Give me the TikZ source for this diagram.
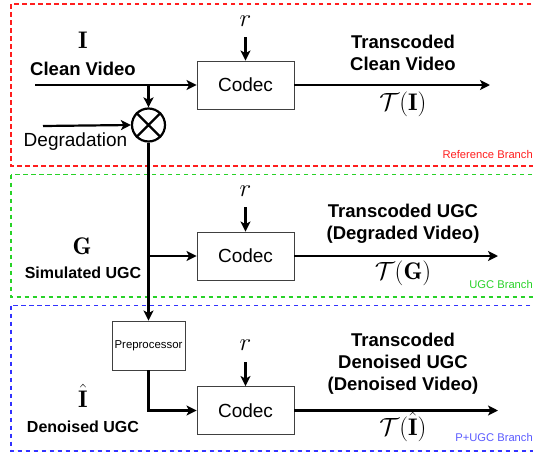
\documentclass[tikz,border=0pt]{standalone}
\usepackage{amsmath}
\usepackage{fontspec}
\setsansfont{Liberation Sans}
\usetikzlibrary{arrows.meta,shapes.misc}

\tikzset{
  conn/.style={line width=2.2pt, -{Stealth[length=10pt,width=10pt,inset=2.5pt]}},
  wire/.style={line width=2.2pt},
  codecbox/.style={draw=black!75, line width=0.9pt, minimum width=97pt, minimum height=48pt,
    font=\sffamily\fontsize{19}{22}\selectfont, inner sep=0pt},
  prebox/.style={draw=black!75, line width=0.9pt, minimum width=73pt, minimum height=49pt,
    font=\sffamily\fontsize{11.4}{13}\selectfont, inner sep=0pt},
  branch/.style={dash pattern=on 4.5pt off 3.5pt, line width=1.5pt},
  boldlbl/.style={font=\sffamily\bfseries\fontsize{18.5}{22}\selectfont, align=center, inner sep=0pt},
  smalllbl/.style={font=\sffamily\bfseries\fontsize{16}{19}\selectfont, inner sep=0pt},
  mathlbl/.style={font=\fontsize{24}{26}\selectfont, inner sep=0pt, text height=12pt, text depth=4pt},
  tag/.style={font=\sffamily\fontsize{11.2}{13}\selectfont, inner sep=0pt, anchor=east},
}
\definecolor{refred}{RGB}{255,30,30}
\definecolor{ugcgreen}{RGB}{40,210,40}
\definecolor{pblue}{RGB}{50,50,255}
\definecolor{tagblue}{RGB}{90,90,255}

\begin{document}
\begin{tikzpicture}[x=1pt,y=-1pt]
\useasboundingbox (0,0) rectangle (533,453);

% branch frames (right edges run past the page)
\begin{scope}
\clip (0,0) rectangle (533,453);
\draw[branch, refred]   (11,4)   rectangle (545,166);
\draw[branch, ugcgreen] (11,174.5) rectangle (545,297);
\draw[branch, pblue]    (11,305.5) rectangle (545,451);
\end{scope}
\node[tag, text=refred]   at (533,154) {Reference Branch};
\node[tag, text=ugcgreen] at (533,284) {UGC Branch};
\node[tag, text=tagblue]  at (533,437) {P+UGC Branch};

% codecs and preprocessor
\node[codecbox] (c1) at (245.5,85) {Codec};
\node[codecbox] (c2) at (245.5,256) {Codec};
\node[codecbox] (c3) at (245.5,410.5) {Codec};
\node[prebox]   (pre) at (148.5,345.5) {Preprocessor};

% degradation mixer
\node[draw, circle, line width=2.2pt, minimum size=33pt, inner sep=0pt] (mix) at (148.5,125) {};
\draw[line width=2.2pt] (mix.north west) -- (mix.south east) (mix.north east) -- (mix.south west);

% rate inputs
\node[mathlbl] (r1) at (245.5,22) {$r$};
\node[mathlbl] (r2) at (245.5,192) {$r$};
\node[mathlbl] (r3) at (245.5,346) {$r$};
\coordinate (r1e) at (245.5,37);
\coordinate (r2e) at (245.5,207);
\coordinate (r3e) at (245.5,362);
\draw[conn] (r1e) -- (c1.north);
\draw[conn] (r2e) -- (c2.north);
\draw[conn] (r3e) -- (c3.north);

% clean video path
\coordinate (cin) at (35,85);
\coordinate (j1) at (148.5,85);
\draw[conn] (cin) -- (c1.west);
\draw[conn] (j1) -- (mix.north);
\coordinate (din) at (43,126);
\draw[conn] (din) -- (mix.west);

% degraded path
\coordinate (j2) at (148.5,256);
\draw[wire] (mix.south) -- (j2);
\draw[conn] (j2) -- (pre.north);
\draw[conn] (j2) -- (c2.west);
\coordinate (j3) at (148.5,410.5);
\draw[conn] (pre.south) -- (j3) -- (c3.west);

% outputs
\coordinate (o1) at (490,85);
\coordinate (o2) at (498,256);
\coordinate (o3) at (498,410.5);
\draw[conn] (c1.east) -- (o1);
\draw[conn] (c2.east) -- (o2);
\draw[conn] (c3.east) -- (o3);

% left-hand labels
\node[mathlbl] (lI) at (83,44) {$\mathbf{I}$};
\node[boldlbl] (lclean) at (83,69) {Clean Video};
\node[font=\sffamily\fontsize{19}{22}\selectfont, inner sep=0pt] (ldeg) at (75.5,142) {Degradation};
\node[mathlbl] (lG) at (82,250) {$\mathbf{G}$};
\node[smalllbl] (lsim) at (83,273) {Simulated UGC};
\node[mathlbl] (lIh) at (83,403) {$\hat{\mathbf{I}}$};
\node[smalllbl] (lden) at (83,427) {Denoised UGC};

% right-hand labels
\node[boldlbl] (t1) at (403,53) {Transcoded\\Clean Video};
\node[mathlbl] (m1) at (403,106) {$\mathcal{T}(\mathbf{I})$};
\node[boldlbl] (t2) at (403,223.5) {Transcoded UGC\\(Degraded Video)};
\node[mathlbl] (m2) at (403,275) {$\mathcal{T}(\mathbf{G})$};
\node[boldlbl] (t3) at (403,364) {Transcoded\\Denoised UGC\\(Denoised Video)};
\node[mathlbl] (m3) at (403,431) {$\mathcal{T}(\hat{\mathbf{I}})$};
\end{tikzpicture}
\end{document}
